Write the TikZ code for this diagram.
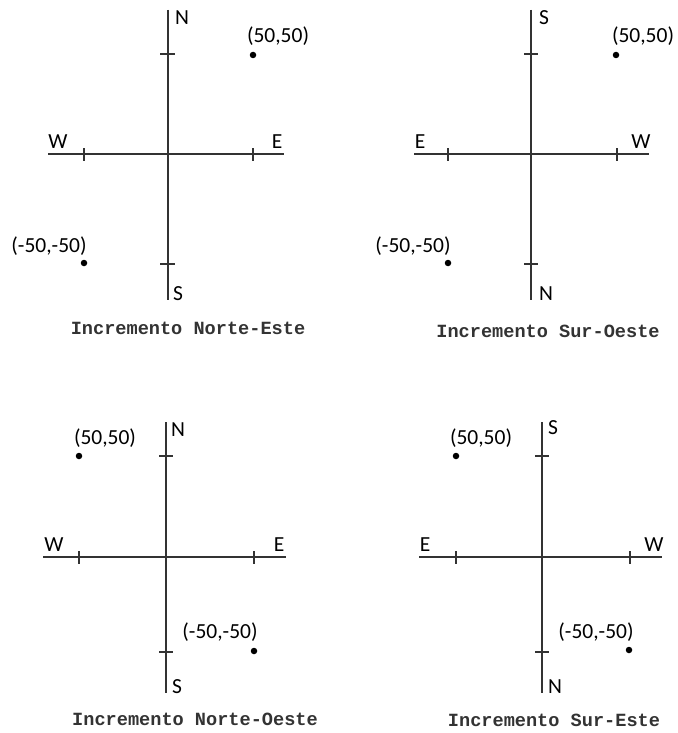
\documentclass[tikz,border=0pt]{standalone}
\usepackage{fontspec}
\newfontfamily\lblfont{Carlito}
\newfontfamily\capfont{Liberation Mono}
\begin{document}
\begin{tikzpicture}[x=1pt,y=-1pt,
  axis/.style={line width=2.9pt,black!80},
  tck/.style={line width=2.2pt,black!80},
  dot/.style={circle,fill=black,inner sep=0pt,minimum size=6.5pt},
  lbl/.style={font=\lblfont\fontsize{21.5}{21.5}\selectfont,inner sep=0pt,text=black},
  captxt/.style={font=\capfont\bfseries\fontsize{18.6}{18.6}\selectfont,inner sep=0pt,text=black!80}]
\useasboundingbox (0,0) rectangle (677,733);
\fill[white] (0,0) rectangle (677,733);
% ---------- Panel 1: Norte-Este ----------
\coordinate (p1t) at (168,10); \coordinate (p1b) at (168,300);
\coordinate (p1l) at (48,154); \coordinate (p1r) at (284,154);
\draw[axis] (p1t) -- (p1b); \draw[axis] (p1l) -- (p1r);
\coordinate (p1ha1) at (84,148); \coordinate (p1ha2) at (84,161);
\coordinate (p1hb1) at (253,148); \coordinate (p1hb2) at (253,161);
\coordinate (p1va1) at (160,54); \coordinate (p1va2) at (175,54);
\coordinate (p1vb1) at (160,264); \coordinate (p1vb2) at (175,264);
\draw[tck] (p1ha1) -- (p1ha2); \draw[tck] (p1hb1) -- (p1hb2);
\draw[tck] (p1va1) -- (p1va2); \draw[tck] (p1vb1) -- (p1vb2);
\node[dot] (p1d1) at (253,55) {};
\node[dot] (p1d2) at (84,263) {};
\node[lbl] (p1N) at (182,18) {N};
\node[lbl] (p1S) at (178,294) {S};
\node[lbl] (p1W) at (58,142) {W};
\node[lbl] (p1E) at (277,142) {E};
\node[lbl] (p1c1) at (278,36) {(50,50)};
\node[lbl] (p1c2) at (49,246) {(-50,-50)};
\node[captxt] (p1cap) at (188,328) {Incremento Norte-Este};
% ---------- Panel 2: Sur-Oeste ----------
\coordinate (p2t) at (531,10); \coordinate (p2b) at (531,300);
\coordinate (p2l) at (414,154); \coordinate (p2r) at (649,154);
\draw[axis] (p2t) -- (p2b); \draw[axis] (p2l) -- (p2r);
\coordinate (p2ha1) at (448,148); \coordinate (p2ha2) at (448,161);
\coordinate (p2hb1) at (617,148); \coordinate (p2hb2) at (617,161);
\coordinate (p2va1) at (524,54); \coordinate (p2va2) at (538,54);
\coordinate (p2vb1) at (524,264); \coordinate (p2vb2) at (538,264);
\draw[tck] (p2ha1) -- (p2ha2); \draw[tck] (p2hb1) -- (p2hb2);
\draw[tck] (p2va1) -- (p2va2); \draw[tck] (p2vb1) -- (p2vb2);
\node[dot] (p2d1) at (616,55) {};
\node[dot] (p2d2) at (448,263) {};
\node[lbl] (p2S) at (544,18) {S};
\node[lbl] (p2N) at (546,294) {N};
\node[lbl] (p2E) at (420,142) {E};
\node[lbl] (p2W) at (641,142) {W};
\node[lbl] (p2c1) at (643,36) {(50,50)};
\node[lbl] (p2c2) at (413,246) {(-50,-50)};
\node[captxt] (p2cap) at (548,331) {Incremento Sur-Oeste};
% ---------- Panel 3: Norte-Oeste ----------
\coordinate (p3t) at (166,422); \coordinate (p3b) at (166,693);
\coordinate (p3l) at (43,557); \coordinate (p3r) at (286,557);
\draw[axis] (p3t) -- (p3b); \draw[axis] (p3l) -- (p3r);
\coordinate (p3ha1) at (79,551); \coordinate (p3ha2) at (79,564);
\coordinate (p3hb1) at (254,551); \coordinate (p3hb2) at (254,564);
\coordinate (p3va1) at (159,456); \coordinate (p3va2) at (173,456);
\coordinate (p3vb1) at (159,652); \coordinate (p3vb2) at (173,652);
\draw[tck] (p3ha1) -- (p3ha2); \draw[tck] (p3hb1) -- (p3hb2);
\draw[tck] (p3va1) -- (p3va2); \draw[tck] (p3vb1) -- (p3vb2);
\node[dot] (p3d1) at (79,456) {};
\node[dot] (p3d2) at (254,651) {};
\node[lbl] (p3N) at (178,430) {N};
\node[lbl] (p3S) at (177,687) {S};
\node[lbl] (p3W) at (54,545) {W};
\node[lbl] (p3E) at (279,545) {E};
\node[lbl] (p3c1) at (105,438) {(50,50)};
\node[lbl] (p3c2) at (220,632) {(-50,-50)};
\node[captxt] (p3cap) at (195,719) {Incremento Norte-Oeste};
% ---------- Panel 4: Sur-Este ----------
\coordinate (p4t) at (542,422); \coordinate (p4b) at (542,693);
\coordinate (p4l) at (419,557); \coordinate (p4r) at (662,557);
\draw[axis] (p4t) -- (p4b); \draw[axis] (p4l) -- (p4r);
\coordinate (p4ha1) at (456,551); \coordinate (p4ha2) at (456,564);
\coordinate (p4hb1) at (630,551); \coordinate (p4hb2) at (630,564);
\coordinate (p4va1) at (535,456); \coordinate (p4va2) at (549,456);
\coordinate (p4vb1) at (535,652); \coordinate (p4vb2) at (549,652);
\draw[tck] (p4ha1) -- (p4ha2); \draw[tck] (p4hb1) -- (p4hb2);
\draw[tck] (p4va1) -- (p4va2); \draw[tck] (p4vb1) -- (p4vb2);
\node[dot] (p4d1) at (456,456) {};
\node[dot] (p4d2) at (629,650) {};
\node[lbl] (p4S) at (553,428) {S};
\node[lbl] (p4N) at (555,687) {N};
\node[lbl] (p4E) at (425,545) {E};
\node[lbl] (p4W) at (654,545) {W};
\node[lbl] (p4c1) at (481,438) {(50,50)};
\node[lbl] (p4c2) at (596,632) {(-50,-50)};
\node[captxt] (p4cap) at (554,720) {Incremento Sur-Este};
\end{tikzpicture}
\end{document}
